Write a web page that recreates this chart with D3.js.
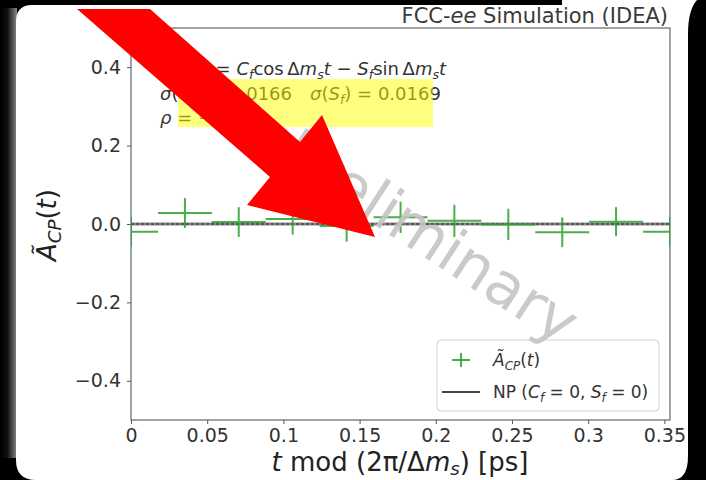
<!DOCTYPE html>
<html>
<head>
<meta charset="utf-8">
<script src="https://cdn.jsdelivr.net/npm/d3@7"></script>
<style>
  html, body { margin: 0; padding: 0; background: #000; }
  svg { display: block; }
  text { font-family: "DejaVu Sans", sans-serif; }
</style>
</head>
<body>
<svg id="chart" width="706" height="480"></svg>
<script>
// Folded decay time (bin edges, ps) and the measured asymmetry with its errors
const tValues = [0, 0.0354, 0.0707, 0.1061, 0.1415, 0.1769, 0.2122, 0.2476, 0.2830, 0.3183, 0.3537];
const asymValues = [-0.020, 0.028, 0.005, 0.013, -0.005, 0.017, 0.008, -0.001, -0.021, 0.006, -0.020];
const asymErrors = [0.038, 0.038, 0.038, 0.040, 0.040, 0.040, 0.041, 0.040, 0.038, 0.037, 0.038];
const tHalfWidth = 0.0177;
const xTicks = [0, 0.05, 0.1, 0.15, 0.2, 0.25, 0.3, 0.35];
const xTickLabels = ["0", "0.05", "0.1", "0.15", "0.2", "0.25", "0.3", "0.35"];
const yTicks = [-0.4, -0.2, 0.0, 0.2, 0.4];
const yTickLabels = ["\u22120.4", "\u22120.2", "0.0", "0.2", "0.4"];
const period = 0.3537;   // 2π/Δm_s in ps

const svg = d3.select("#chart");
const W = 706, H = 480;
const plot = { left: 131, right: 670, top: 28, bottom: 420 };

// ---- screen bezel / window frame ----
const defs = svg.append("defs");
const lg = defs.append("linearGradient").attr("id", "edgeL").attr("x1", 0).attr("x2", 1).attr("y1", 0).attr("y2", 0);
lg.append("stop").attr("offset", 0).attr("stop-color", "#000");
lg.append("stop").attr("offset", 0.45).attr("stop-color", "#111");
lg.append("stop").attr("offset", 1).attr("stop-color", "#8a8a8a");

svg.append("rect").attr("width", W).attr("height", H).attr("fill", "#000");
svg.append("rect").attr("x", 0).attr("y", 8).attr("width", 17).attr("height", H - 30).attr("fill", "url(#edgeL)");
svg.append("path")
  .attr("d", "M16,22 Q16,5 32,5 L562,5 L562,0 L697,0 Q688,10 688,34 L688,456 Q688,480 672,480 L36,480 Q16,480 16,460 Z")
  .attr("fill", "#fff");

// ---- scales ----
const x = d3.scaleLinear().domain([0, period]).range([plot.left, plot.right]);
const y = d3.scaleLinear().domain([-0.5, 0.5]).range([plot.bottom, plot.top]);

const g = svg.append("g");

defs.append("clipPath").attr("id", "plotClip")
  .append("rect").attr("x", plot.left).attr("y", plot.top)
  .attr("width", plot.right - plot.left).attr("height", plot.bottom - plot.top);

// rich text helper (italic pieces and subscripts)
function rich(sel, segs, size, subShift) {
  const sh = subShift === undefined ? 0.24 : subShift;
  let shift = 0;
  segs.forEach(s => {
    const fs = s.sub ? size * 0.7 : size;
    const target = s.sub ? size * sh : 0;
    const ts = sel.append("tspan").attr("font-size", fs).attr("dy", target - shift).text(s.t);
    if (s.i) ts.attr("font-style", "italic");
    shift = target;
  });
  return sel;
}

// ---- title ----
rich(g.append("text").attr("x", plot.right - 2).attr("y", 23).attr("text-anchor", "end").attr("fill", "#3a3a3a"),
  [{ t: "FCC-" }, { t: "ee", i: true }, { t: " Simulation (IDEA)" }], 21);

// ---- axes ----
const yAxis = d3.axisLeft(y).tickValues(yTicks).tickFormat((d, i) => yTickLabels[i]).tickSize(4).tickPadding(6);
const xAxis = d3.axisBottom(x).tickValues(xTicks).tickFormat((d, i) => xTickLabels[i]).tickSize(4).tickPadding(5);

const ya = g.append("g").attr("transform", `translate(${plot.left},0)`).call(yAxis);
const xa = g.append("g").attr("transform", `translate(0,${plot.bottom})`).call(xAxis);
[ya, xa].forEach(a => {
  a.select(".domain").remove();
  a.selectAll(".tick line").attr("stroke", "#555");
  a.selectAll(".tick text").attr("fill", "#333").attr("font-size", 19).attr("font-family", "DejaVu Sans");
});

// plot frame
g.append("rect").attr("x", plot.left).attr("y", plot.top)
  .attr("width", plot.right - plot.left).attr("height", plot.bottom - plot.top)
  .attr("fill", "none").attr("stroke", "#666").attr("stroke-width", 1.2);

// axis titles
rich(g.append("text").attr("x", 400).attr("y", 471).attr("text-anchor", "middle").attr("fill", "#222"),
  [{ t: "t", i: true }, { t: " mod (2\u03c0/\u0394" }, { t: "m", i: true }, { t: "s", i: true, sub: true }, { t: ") [ps]" }], 26, 0.15);

rich(g.append("text").attr("transform", "translate(56,225) rotate(-90)").attr("text-anchor", "middle").attr("fill", "#222"),
  [{ t: "\u00c3", i: true }, { t: "CP", i: true, sub: true }, { t: "(" }, { t: "t", i: true }, { t: ")" }], 26, 0.2);

// ---- data ----
const pg = g.append("g").attr("clip-path", "url(#plotClip)");

// NP hypothesis line (C_f = 0, S_f = 0)
pg.append("line").attr("x1", x(0)).attr("x2", x(period)).attr("y1", y(0)).attr("y2", y(0))
  .attr("stroke", "#8a8a8a").attr("stroke-width", 3);
pg.append("line").attr("x1", x(0)).attr("x2", x(period)).attr("y1", y(0)).attr("y2", y(0))
  .attr("stroke", "#222").attr("stroke-width", 1.2).attr("stroke-dasharray", "3,2");

const green = "#2ca02c";
const pts = tValues.map((t, i) => ({ t, a: asymValues[i], e: asymErrors[i] }));
const eb = pg.selectAll("g.eb").data(pts).join("g").attr("class", "eb")
  .attr("stroke", green).attr("stroke-width", 2).attr("opacity", 0.85);
eb.append("line")
  .attr("x1", d => x(d.t - tHalfWidth)).attr("x2", d => x(d.t + tHalfWidth))
  .attr("y1", d => y(d.a)).attr("y2", d => y(d.a));
eb.append("line")
  .attr("x1", d => x(d.t)).attr("x2", d => x(d.t))
  .attr("y1", d => y(d.a - d.e)).attr("y2", d => y(d.a + d.e));

// ---- fit result annotation ----
const ann = g.append("g").attr("fill", "#333");
rich(ann.append("text").attr("x", 160).attr("y", 75),
  [{ t: "\u00c3", i: true }, { t: "CP", i: true, sub: true }, { t: "(" }, { t: "t", i: true }, { t: ") = " },
   { t: "C", i: true }, { t: "f", i: true, sub: true }, { t: "cos\u2009\u0394" }, { t: "m", i: true }, { t: "s", i: true, sub: true },
   { t: "t", i: true }, { t: " \u2212 " }, { t: "S", i: true }, { t: "f", i: true, sub: true }, { t: "sin\u2009\u0394" },
   { t: "m", i: true }, { t: "s", i: true, sub: true }, { t: "t", i: true }], 18);
rich(ann.append("text").attr("x", 160).attr("y", 100),
  [{ t: "\u03c3", i: true }, { t: "(" }, { t: "C", i: true }, { t: "f", i: true, sub: true }, { t: ") = 0.0166\u2003" },
   { t: "\u03c3", i: true }, { t: "(" }, { t: "S", i: true }, { t: "f", i: true, sub: true }, { t: ") = 0.0169" }], 18);
rich(ann.append("text").attr("x", 160).attr("y", 124),
  [{ t: "\u03c1", i: true }, { t: " = \u22120.018" }], 18);

// highlighter mark over the fit numbers
g.append("rect").attr("x", 178).attr("y", 79).attr("width", 255).attr("height", 48)
  .attr("fill", "#ffff00").attr("opacity", 0.5);

// ---- legend ----
const lgd = g.append("g");
lgd.append("rect").attr("x", 437).attr("y", 340).attr("width", 222).attr("height", 71).attr("rx", 4)
  .attr("fill", "#fff").attr("fill-opacity", 0.8).attr("stroke", "#d0d0d0");
lgd.append("line").attr("x1", 452).attr("x2", 470).attr("y1", 360).attr("y2", 360).attr("stroke", green).attr("stroke-width", 2).attr("opacity", 0.85);
lgd.append("line").attr("x1", 461).attr("x2", 461).attr("y1", 353).attr("y2", 367).attr("stroke", green).attr("stroke-width", 2).attr("opacity", 0.85);
rich(lgd.append("text").attr("x", 493).attr("y", 366).attr("fill", "#333"),
  [{ t: "\u00c3", i: true }, { t: "CP", i: true, sub: true }, { t: "(" }, { t: "t", i: true }, { t: ")" }], 17);
lgd.append("line").attr("x1", 442).attr("x2", 480).attr("y1", 392).attr("y2", 392).attr("stroke", "#444").attr("stroke-width", 2);
rich(lgd.append("text").attr("x", 493).attr("y", 398).attr("fill", "#333"),
  [{ t: "NP (" }, { t: "C", i: true }, { t: "f", i: true, sub: true }, { t: " = 0, " }, { t: "S", i: true }, { t: "f", i: true, sub: true }, { t: " = 0)" }], 17);

// ---- watermark ----
g.append("text").attr("transform", "translate(428,240) rotate(33)")
  .attr("text-anchor", "middle").attr("dominant-baseline", "middle")
  .attr("font-size", 60).attr("fill", "#c4c4c4").attr("fill-opacity", 0.9)
  .text("Preliminary");

// ---- top bezel strip ----
svg.append("rect").attr("x", 0).attr("y", 0).attr("width", 562).attr("height", 4.5).attr("fill", "#000");

// ---- red arrow ----
svg.append("polygon")
  .attr("points", [[77, 9], [150, 9], [300, 142], [322, 115], [375, 237], [247, 205], [270, 177]].map(p => p.join(",")).join(" "))
  .attr("fill", "#ff0000");
</script>
</body>
</html>
